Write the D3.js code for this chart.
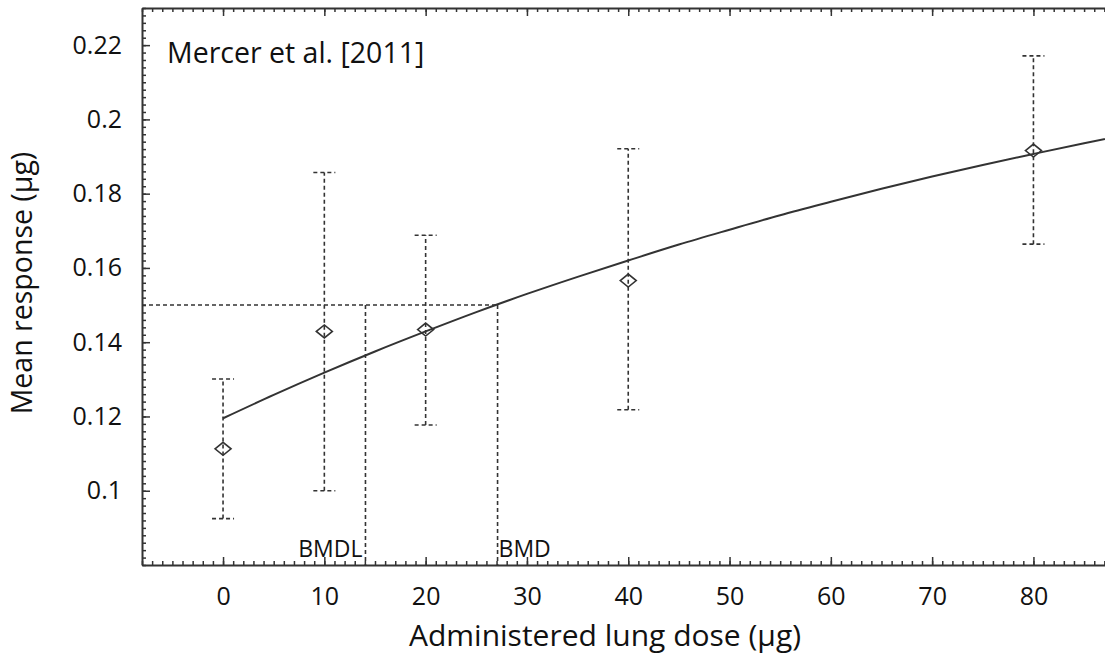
<!DOCTYPE html>
<html>
<head>
<meta charset="utf-8">
<script src="https://cdn.jsdelivr.net/npm/d3@7"></script>
<style>
  body { margin: 0; background: #fff; }
  svg { display: block; font-family: "Open Sans", sans-serif; }
  .axis path, .axis line { stroke: #333; }
  .axis text { fill: #111; font-size: 25px; font-family: "Open Sans", sans-serif; }
</style>
</head>
<body>
<svg id="chart" width="1105" height="657"></svg>
<script>
// observed data (dose in ug, mean response in ug, error bar ends)
var doses = [0, 10, 20, 40, 80];
var means = [0.1113, 0.1429, 0.1434, 0.1566, 0.1916];
var upper = [0.1301, 0.1857, 0.1688, 0.1921, 0.2171];
var lower = [0.0925, 0.1000, 0.1177, 0.1218, 0.1664];

// fitted curve
var fitDose = [0, 5, 10, 15, 20, 25, 30, 35, 40, 45, 50, 55, 60, 65, 70, 75, 80, 85, 90];
var fitResp = [0.1195, 0.1258, 0.1318, 0.1375, 0.1429, 0.1481, 0.1530, 0.1576, 0.1620,
               0.1663, 0.1703, 0.1742, 0.1778, 0.1813, 0.1846, 0.1877, 0.1907, 0.1936, 0.1963];

// benchmark dose marks
var bmr = 0.15;
var bmdl = 14.06;
var bmd = 27.1;

var xTicks = [0, 10, 20, 30, 40, 50, 60, 70, 80];
var yTicks = [0.1, 0.12, 0.14, 0.16, 0.18, 0.2, 0.22];

var svg = d3.select("#chart");

var padL = 142, padT = 8, padB = 565;
var x = d3.scaleLinear().domain([-8, 90]).range([padL, padL + 98 * 10.13]);
var y = d3.scaleLinear().domain([0.08, 0.23]).range([padB, padT]);

var ink = "#333";

// minor ticks
var xMinor = d3.range(-8, 91, 1);
var yMinor = d3.range(80, 231, 2).map(function(v) { return v / 1000; });

function thin(g) { g.select(".domain").remove(); g.selectAll("line").attr("stroke-width", 1.5); }
function thick(g) { g.select(".domain").attr("stroke-width", 2); g.selectAll("line").attr("stroke-width", 1.5); }

svg.append("g").attr("class", "axis")
  .attr("transform", "translate(0," + padB + ")")
  .call(d3.axisBottom(x).tickValues(xMinor).tickSizeInner(-4).tickSizeOuter(0).tickFormat(""))
  .call(thin);
svg.append("g").attr("class", "axis")
  .attr("transform", "translate(0," + padT + ")")
  .call(d3.axisTop(x).tickValues(xMinor).tickSizeInner(-4).tickSizeOuter(0).tickFormat(""))
  .call(thin);
svg.append("g").attr("class", "axis")
  .attr("transform", "translate(" + padL + ",0)")
  .call(d3.axisLeft(y).tickValues(yMinor).tickSizeInner(-4).tickSizeOuter(0).tickFormat(""))
  .call(thin);

// major ticks + labels
svg.append("g").attr("class", "axis")
  .attr("transform", "translate(0," + padB + ")")
  .call(d3.axisBottom(x).tickValues(xTicks).tickSizeInner(-8).tickSizeOuter(0).tickPadding(22))
  .call(thick);
svg.append("g").attr("class", "axis")
  .attr("transform", "translate(0," + padT + ")")
  .call(d3.axisTop(x).tickValues(xTicks).tickSizeInner(-8).tickSizeOuter(0).tickFormat(""))
  .call(thick);
svg.append("g").attr("class", "axis")
  .attr("transform", "translate(" + padL + ",0)")
  .call(d3.axisLeft(y).tickValues(yTicks).tickSizeInner(-8).tickSizeOuter(0).tickPadding(20)
        .tickFormat(function(d) { return String(d); }))
  .call(thick);

// BMR / BMDL / BMD guide lines
var dash = "4,3";
svg.append("line")
  .attr("x1", x(-8)).attr("x2", x(bmd)).attr("y1", y(bmr)).attr("y2", y(bmr))
  .attr("stroke", ink).attr("stroke-width", 1.6).attr("stroke-dasharray", dash);
[bmdl, bmd].forEach(function(v) {
  svg.append("line")
    .attr("x1", x(v)).attr("x2", x(v)).attr("y1", y(bmr)).attr("y2", y(0.08))
    .attr("stroke", ink).attr("stroke-width", 1.6).attr("stroke-dasharray", dash);
});
svg.append("text").attr("x", x(bmdl) - 3).attr("y", 557)
  .attr("text-anchor", "end").attr("font-size", 23).attr("fill", "#111").text("BMDL");
svg.append("text").attr("x", x(bmd) + 1).attr("y", 557)
  .attr("font-size", 23).attr("fill", "#111").text("BMD");

// fitted curve
var fit = fitDose.map(function(d, i) { return [d, fitResp[i]]; });
svg.append("path")
  .attr("d", d3.line().x(function(d) { return x(d[0]); }).y(function(d) { return y(d[1]); })
    .curve(d3.curveMonotoneX)(fit))
  .attr("fill", "none").attr("stroke", ink).attr("stroke-width", 2);

// error bars
var pts = svg.append("g").selectAll("g").data(doses).join("g");
pts.append("line")
  .attr("x1", function(d) { return x(d); }).attr("x2", function(d) { return x(d); })
  .attr("y1", function(d, i) { return y(lower[i]); }).attr("y2", function(d, i) { return y(upper[i]); })
  .attr("stroke", ink).attr("stroke-width", 1.6).attr("stroke-dasharray", dash);
[upper, lower].forEach(function(arr) {
  pts.append("line")
    .attr("x1", function(d) { return x(d) - 11; }).attr("x2", function(d) { return x(d) + 11; })
    .attr("y1", function(d, i) { return y(arr[i]); }).attr("y2", function(d, i) { return y(arr[i]); })
    .attr("stroke", ink).attr("stroke-width", 1.6).attr("stroke-dasharray", dash);
});
// diamonds
pts.append("path")
  .attr("d", function(d, i) {
    var cx = x(d), cy = y(means[i]);
    return "M" + (cx - 8) + "," + cy + "L" + cx + "," + (cy - 6.5) + "L" + (cx + 8) + "," + cy +
           "L" + cx + "," + (cy + 6.5) + "Z";
  })
  .attr("fill", "none").attr("stroke", ink).attr("stroke-width", 1.6);

// annotation and titles
svg.append("text").attr("x", 167).attr("y", 63)
  .attr("font-size", 28.5).attr("fill", "#111").text("Mercer et al. [2011]");
svg.append("text").attr("x", 605).attr("y", 646).attr("text-anchor", "middle")
  .attr("font-size", 30).attr("fill", "#111").text("Administered lung dose (µg)");
svg.append("text").attr("transform", "translate(32,283) rotate(-90)").attr("text-anchor", "middle")
  .attr("font-size", 28.5).attr("fill", "#111").text("Mean response (µg)");
</script>
</body>
</html>
